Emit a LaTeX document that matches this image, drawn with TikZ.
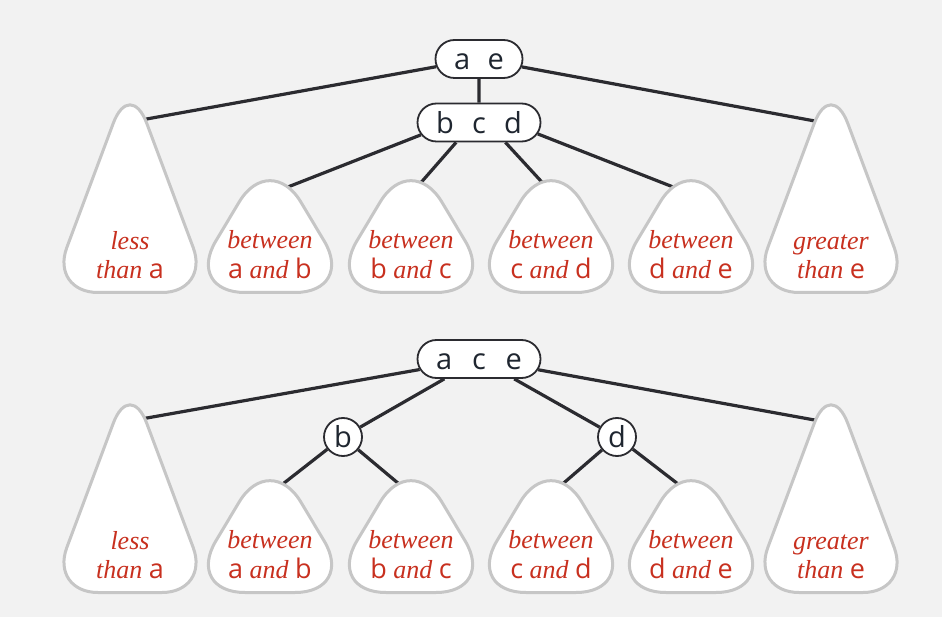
\documentclass[tikz,border=0pt]{standalone}
\usepackage{fontspec}
\setmainfont{Liberation Serif}
\setsansfont{Open Sans}
\usepackage{tikz}
\usetikzlibrary{shapes.misc}
\usepackage{xcolor}
\definecolor{bgray}{HTML}{F2F2F2}
\definecolor{edgecol}{HTML}{2B2B30}
\definecolor{leafline}{HTML}{C6C6C6}
\definecolor{leaftext}{HTML}{C8301F}
\definecolor{keycol}{HTML}{1F2630}
\newcommand{\K}[1]{\textsf{\upshape\fontsize{27}{29}\selectfont #1}}
% subtree shapes: #1 centre x, #2 base y
\newcommand{\bigleaf}[2]{\draw[leaf, rounded corners=48pt] (#1,#2) ++(0,-214) -- ++(80,214) -- ++(-160,0) -- cycle;}
\newcommand{\smallleaf}[2]{\draw[leaf, rounded corners=60pt] (#1,#2) ++(0,-142) -- ++(85,142) -- ++(-170,0) -- cycle;}

\begin{document}
\begin{tikzpicture}[
        x=1pt, y=-1pt,
        link/.style={draw=edgecol, line width=3.2pt},
        keys/.style={rounded rectangle, draw=edgecol, line width=1.8pt, fill=white, minimum height=38pt, inner sep=0pt, text=keycol, font=\sffamily\fontsize{29}{29}\selectfont, text height=22pt, text depth=0pt},
        key/.style={circle, draw=edgecol, line width=1.8pt, fill=white, minimum size=38pt, inner sep=0pt, text=keycol, font=\sffamily\fontsize{29}{29}\selectfont, text height=20pt, text depth=0pt},
        leaf/.style={draw=leafline, line width=3pt, fill=white, line join=round},
        leaflabel/.style={align=center, text=leaftext, font=\itshape\fontsize{26}{29}\selectfont}
    ]
        % Background
        \fill[bgray] (0,0) rectangle (942,617);

        % Top: 2-node over 4-node
        \node[keys, minimum width=87pt] (ae) at (479,59) {\makebox[50pt]{a\hfill e}};
        \node[keys, minimum width=123pt] (bcd) at (479,122.5) {\makebox[86pt]{b\hfill c\hfill d}};
        \coordinate (lt) at (130,122);
        \coordinate (rt) at (831,124);
        \coordinate (ab) at (270,194);
        \coordinate (bc) at (411,194);
        \coordinate (cd) at (551,192);
        \coordinate (de) at (691,194);

        \draw[link] (ae) -- (lt);
        \draw[link] (ae) -- (rt);
        \draw[link] (ae) -- (bcd);
        \draw[link] (bcd.192) -- (ab);
        \draw[link] (bcd.221) -- (bc);
        \draw[link] (bcd.323) -- (cd);
        \draw[link] (bcd.349) -- (de);

        \bigleaf{130}{292.5}
        \smallleaf{270}{292.5}
        \smallleaf{411}{292.5}
        \smallleaf{551}{292.5}
        \smallleaf{691}{292.5}
        \bigleaf{831}{292.5}

        \node[leaflabel] (lt-text) at (130,258) {\strut less\\\strut than \K{a}};
        \node[leaflabel] (ab-text) at (270,258) {\strut between\\\strut \K{a} and \K{b}};
        \node[leaflabel] (bc-text) at (411,258) {\strut between\\\strut \K{b} and \K{c}};
        \node[leaflabel] (cd-text) at (551,258) {\strut between\\\strut \K{c} and \K{d}};
        \node[leaflabel] (de-text) at (691,258) {\strut between\\\strut \K{d} and \K{e}};
        \node[leaflabel] (rt-text) at (831,258) {\strut greater\\\strut than \K{e}};

        % Bottom: 3-node over two 2-nodes
        \node[keys, minimum width=123pt] (ace) at (479,359) {\makebox[86pt]{a\hfill c\hfill e}};
        \node[key] (b) at (343,437) {b};
        \node[key] (d) at (617,437) {d};
        \coordinate (lt2) at (130,421);
        \coordinate (rt2) at (831,423);
        \coordinate (ab2) at (270,494);
        \coordinate (bc2) at (411,494);
        \coordinate (cd2) at (551,494);
        \coordinate (de2) at (691,494);

        \draw[link] (ace) -- (lt2);
        \draw[link] (ace) -- (rt2);
        \draw[link] (ace) -- (b);
        \draw[link] (ace) -- (d);
        \draw[link] (b) -- (ab2);
        \draw[link] (b) -- (bc2);
        \draw[link] (d) -- (cd2);
        \draw[link] (d) -- (de2);

        \bigleaf{130}{592.5}
        \smallleaf{270}{592.5}
        \smallleaf{411}{592.5}
        \smallleaf{551}{592.5}
        \smallleaf{691}{592.5}
        \bigleaf{831}{592.5}

        \node[leaflabel] (lt2-text) at (130,558) {\strut less\\\strut than \K{a}};
        \node[leaflabel] (ab2-text) at (270,558) {\strut between\\\strut \K{a} and \K{b}};
        \node[leaflabel] (bc2-text) at (411,558) {\strut between\\\strut \K{b} and \K{c}};
        \node[leaflabel] (cd2-text) at (551,558) {\strut between\\\strut \K{c} and \K{d}};
        \node[leaflabel] (de2-text) at (691,558) {\strut between\\\strut \K{d} and \K{e}};
        \node[leaflabel] (rt2-text) at (831,558) {\strut greater\\\strut than \K{e}};
    \end{tikzpicture}
\end{document}
